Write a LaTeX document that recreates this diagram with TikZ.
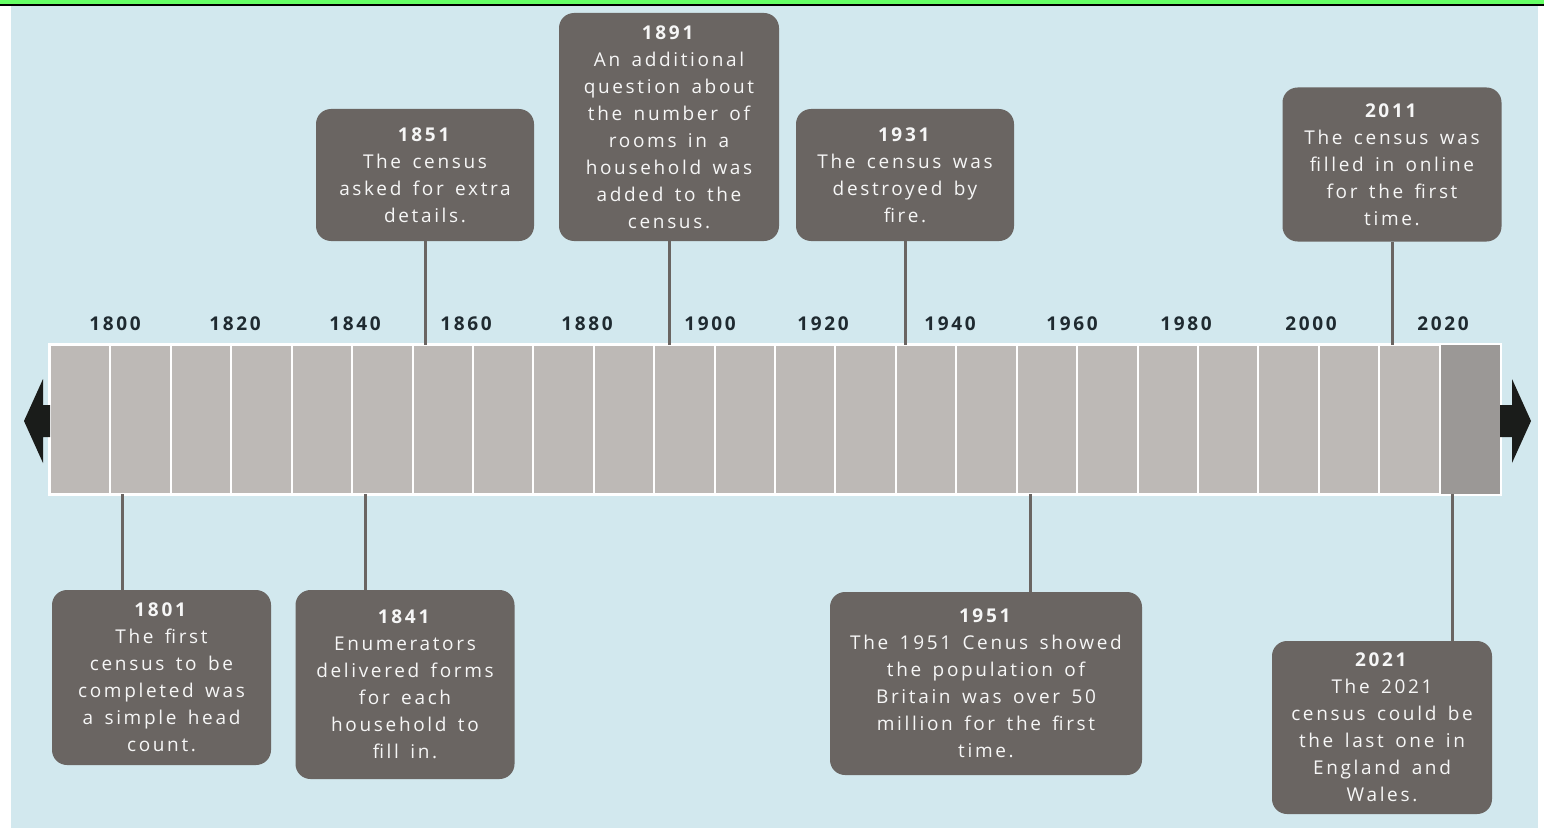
\documentclass[tikz,border=0pt]{standalone}
\usepackage{fontspec}
\setmainfont{Open Sans}[LetterSpace=14, WordSpace=1.5]
\usepackage{tikz}
\usetikzlibrary{positioning}
\definecolor{skybg}{HTML}{D2E8EE}
\definecolor{topgreen}{HTML}{66FF66}
\definecolor{boxgray}{HTML}{6A6562}
\definecolor{cellgray}{HTML}{BDB9B6}
\definecolor{lastgray}{HTML}{9B9896}
\definecolor{yearink}{HTML}{1F2A30}
\definecolor{arrowink}{HTML}{1A1C1A}

\begin{document}
\begin{tikzpicture}[
    x=1pt, y=-1pt,
    evbox/.style={rectangle, rounded corners=15pt, fill=boxgray, text=white!94!boxgray,
      inner sep=0pt, align=center, font=\fontsize{19}{27}\selectfont},
    stem/.style={draw=boxgray, line width=3pt},
    yearlbl/.style={font=\fontsize{19}{22}\selectfont\bfseries, text=yearink, inner sep=0pt},
    bar/.style={rectangle, fill=cellgray, draw=white, line width=2pt, inner sep=0pt,
      minimum width=1450pt, minimum height=149pt},
    tip/.style={fill=arrowink}
  ]
    \useasboundingbox (0,0) rectangle (1544,832);
    \fill[white] (0,0) rectangle (1544,832);
    \fill[skybg] (11,6) rectangle (1538,828);
    \fill[topgreen] (0,0) rectangle (1544,3.6);
    \fill[black] (0,3.6) rectangle (1544,6);

    \node[bar] (bar) at (775,419.5) {};
    \fill[lastgray] (1439.6,345) rectangle (1500,494);
    \foreach \i in {1,...,23}
      \draw[white, line width=2pt] ({50+\i*60.4167},345) -- ++(0,149);
    \draw[white, line width=2pt] (bar.north west) rectangle (bar.south east);

    \fill[tip] (50,405) -- (43,405) -- (43,379) -- (24,421) -- (43,463) -- (43,437) -- (50,437) -- cycle;
    \fill[tip] (1500,405) -- (1512,405) -- (1512,379) -- (1531,421) -- (1512,463) -- (1512,437) -- (1500,437) -- cycle;

    \foreach \yr/\x in {1800/115, 1820/235, 1840/355, 1860/466, 1880/587, 1900/710,
        1920/823, 1940/950, 1960/1072, 1980/1186, 2000/1311, 2020/1443}
      \node[yearlbl] (y\yr) at (\x,324) {\yr};

    \node[evbox, minimum width=219pt, minimum height=175pt] (b1801) at (161.5,677.5)
      {\textbf{1801}\\The first\\census to be\\completed was\\a simple head\\count.};
    \node[evbox, minimum width=219pt, minimum height=189pt] (b1841) at (405,684.5)
      {\textbf{1841}\\Enumerators\\delivered forms\\for each\\household to\\fill in.};
    \node[evbox, minimum width=218pt, minimum height=132pt] (b1851) at (425,175)
      {\textbf{1851}\\The census\\asked for extra\\details.};
    \node[evbox, minimum width=220pt, minimum height=228pt] (b1891) at (669,127)
      {\textbf{1891}\\An additional\\question about\\the number of\\rooms in a\\household was\\added to the\\census.};
    \node[evbox, minimum width=218pt, minimum height=132pt] (b1931) at (905,175)
      {\textbf{1931}\\The census was\\destroyed by\\fire.};
    \node[evbox, minimum width=312pt, minimum height=183pt] (b1951) at (986,683.5)
      {\textbf{1951}\\The 1951 Cenus showed\\the population of\\Britain was over 50\\million for the first\\time.};
    \node[evbox, minimum width=219pt, minimum height=154pt] (b2011) at (1392,164.5)
      {\textbf{2011}\\The census was\\filled in online\\for the first\\time.};
    \node[evbox, minimum width=220pt, minimum height=173pt] (b2021) at (1382,727.5)
      {\textbf{2021}\\The 2021\\census could be\\the last one in\\England and\\Wales.};

    \coordinate (k1801) at (122,494);
    \coordinate (k1841) at (365,494);
    \coordinate (k1851) at (425,345);
    \coordinate (k1891) at (669,345);
    \coordinate (k1931) at (905,345);
    \coordinate (k1951) at (1030,494);
    \coordinate (k2011) at (1392,345);
    \coordinate (k2021) at (1452,494);

    \draw[stem] (k1801) -- (k1801 |- b1801.north);
    \draw[stem] (k1841) -- (k1841 |- b1841.north);
    \draw[stem] (b1851.south) -- (k1851);
    \draw[stem] (k1891 |- b1891.south) -- (k1891);
    \draw[stem] (b1931.south) -- (k1931);
    \draw[stem] (k1951) -- (k1951 |- b1951.north);
    \draw[stem] (b2011.south) -- (k2011);
    \draw[stem] (k2021) -- (k2021 |- b2021.north);
  \end{tikzpicture}
\end{document}
